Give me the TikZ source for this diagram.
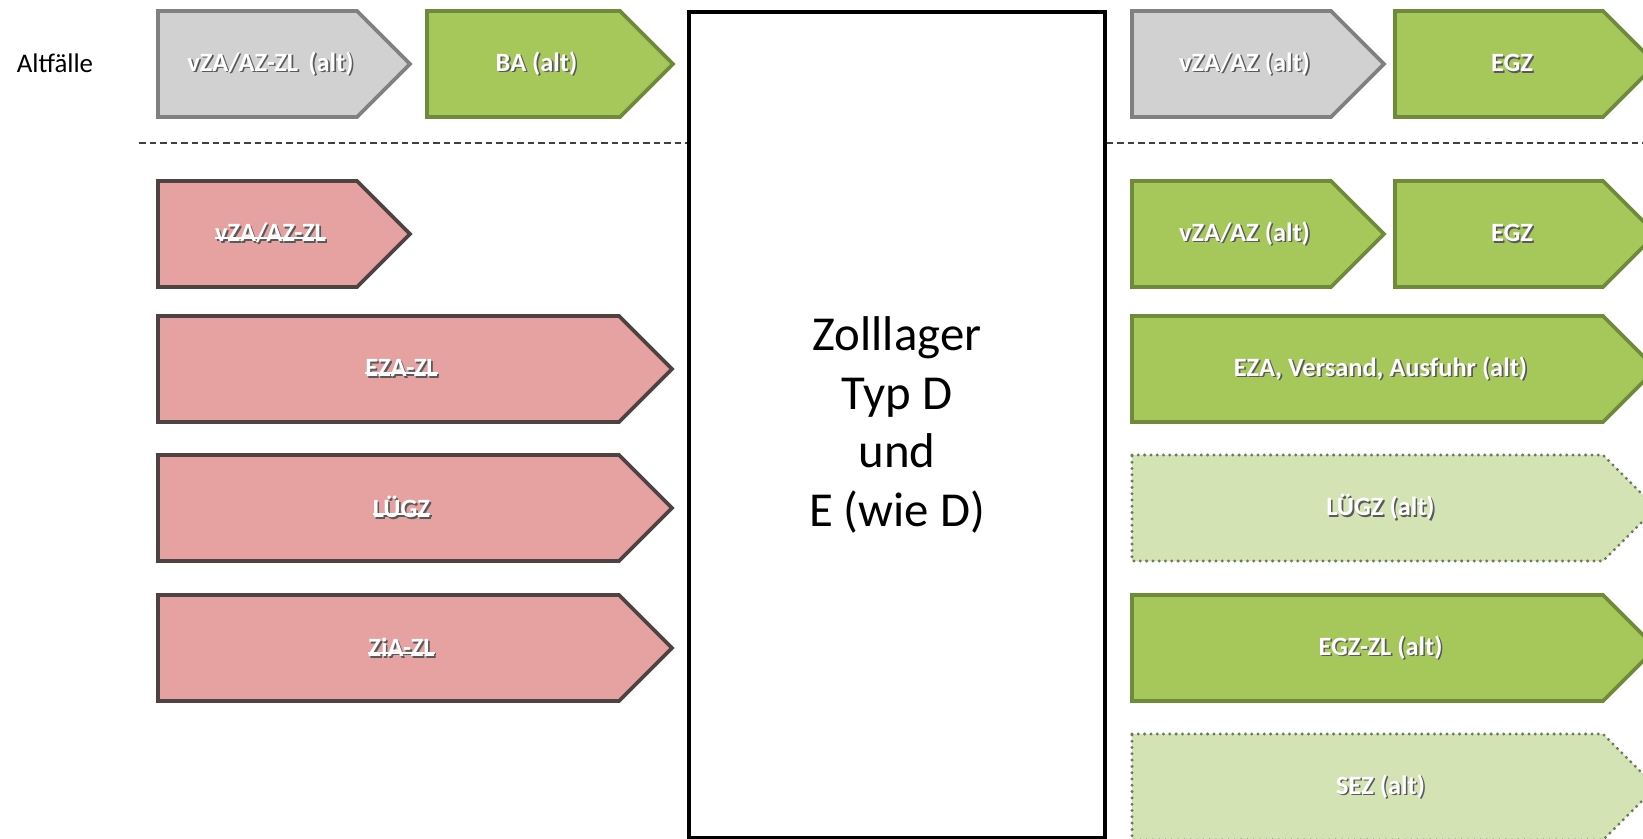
\documentclass[tikz,border=0pt]{standalone}
\usepackage{fontspec}
\setmainfont{Carlito}

\definecolor{grayfill}{RGB}{209,209,209}
\definecolor{grayline}{RGB}{128,128,128}
\definecolor{greenfill}{RGB}{166,200,90}
\definecolor{greenline}{RGB}{111,139,58}
\definecolor{palefill}{RGB}{211,227,180}
\definecolor{paleline}{RGB}{106,122,90}
\definecolor{pinkfill}{RGB}{230,161,161}
\definecolor{pinkline}{RGB}{79,66,66}

% white label with a dark drop shadow
\newcommand{\shadowed}[1]{\makebox[0pt][l]{\hspace{1.6pt}\raisebox{-1.6pt}{\textcolor{black!65}{#1}}}#1}
\newsavebox{\strikebox}
\newcommand{\struck}[1]{\sbox{\strikebox}{#1}\rlap{\raisebox{.22ex}{\rule{\wd\strikebox}{2pt}}}\usebox{\strikebox}}

% style, name, left, top, width, text
\newcommand{\homeplate}[6]{%
  \draw[#1] (#3,#4) -- ++(#5-53,0) -- ++(53,53) -- ++(-53,53) -- ++(-#5+53,0) -- cycle;
  \node[boxlabel] (#2) at (#3+#5/2-13.5,#4+53) {\shadowed{#6}};
}

\begin{document}
\begin{tikzpicture}[x=1bp,y=-1bp,
    boxlabel/.style={text=white,inner sep=0pt,font=\fontsize{26.5}{31}\selectfont\bfseries},
    grayplate/.style={fill=grayfill,draw=grayline,line width=3.6bp},
    greenplate/.style={fill=greenfill,draw=greenline,line width=3.6bp},
    paleplate/.style={fill=palefill,draw=paleline,line width=3.3bp,line cap=round,dash pattern=on 0pt off 6.3bp},
    pinkplate/.style={fill=pinkfill,draw=pinkline,line width=3.6bp},
    sepline/.style={draw=black!75,line width=1.3bp,dash pattern=on 6.5bp off 4bp}]
      \clip (0,0) rectangle (1643,838);
      \fill[white] (0,0) rectangle (1643,838);

      \node[font=\fontsize{27}{32}\selectfont] (alt) at (55,63) {Altfälle};

      % Zolllager
      \node[draw,line width=3.5bp,minimum width=416bp,minimum height=826bp,align=center,
        font=\fontsize{49}{58.7}\selectfont] (lager) at (897,425) {Zolllager\\Typ D\\und\\E (wie D)};

      \coordinate (sepL) at (139,143);
      \coordinate (sepR) at (1643,143);
      \draw[sepline] (sepL) -- (sepL -| lager.west);
      \draw[sepline] (lager.east |- sepR) -- (sepR);

      % left side
      \homeplate{grayplate}{altvza}{158}{11}{252}{vZA/AZ-ZL\ \,(alt)}
      \homeplate{greenplate}{altba}{427}{11}{246}{BA (alt)}
      \homeplate{pinkplate}{vza}{158}{181}{252}{\struck{vZA/AZ-ZL}}
      \homeplate{pinkplate}{eza}{158}{316}{514}{\struck{EZA-ZL}}
      \homeplate{pinkplate}{luegz}{158}{455}{514}{\struck{LÜGZ}}
      \homeplate{pinkplate}{zia}{158}{595}{514}{\struck{ZiA-ZL}}

      % right side
      \homeplate{grayplate}{altvzaR}{1132}{11}{252}{vZA/AZ (alt)}
      \homeplate{greenplate}{altegz}{1395}{11}{261}{EGZ}
      \homeplate{greenplate}{vzaR}{1132}{181}{252}{vZA/AZ (alt)}
      \homeplate{greenplate}{egz}{1395}{181}{261}{EGZ}
      \homeplate{greenplate}{ezaR}{1132}{316}{524}{EZA, Versand, Ausfuhr (alt)}
      \homeplate{paleplate}{luegzR}{1132}{455}{524}{LÜGZ (alt)}
      \homeplate{greenplate}{egzzl}{1132}{595}{524}{EGZ-ZL (alt)}
      \homeplate{paleplate}{sez}{1132}{734}{524}{SEZ (alt)}
    \end{tikzpicture}
\end{document}
